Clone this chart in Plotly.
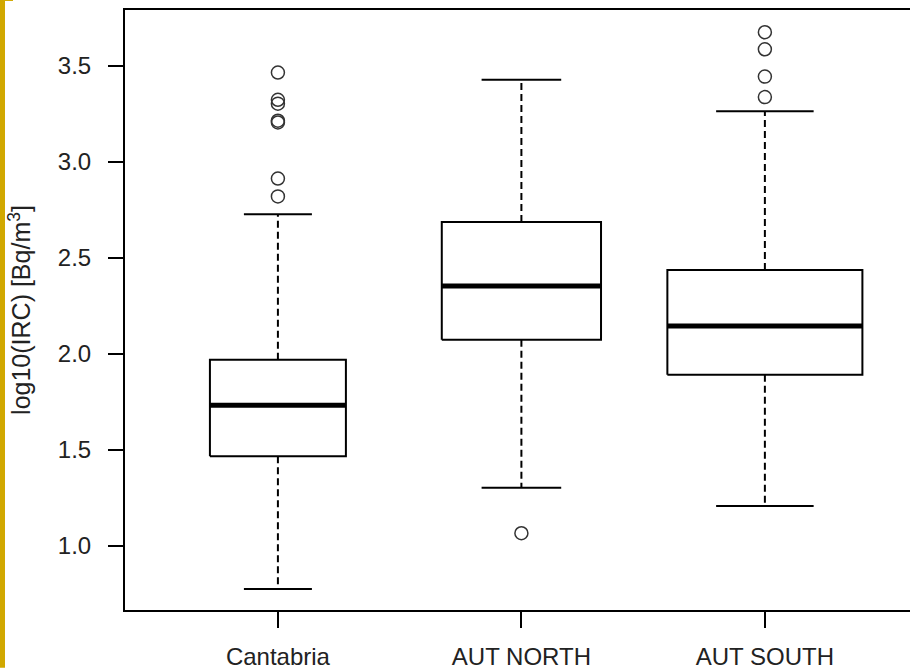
import plotly.graph_objects as go

# ---- data ----
categories = ["Cantabria", "AUT NORTH", "AUT SOUTH"]
q1_values = [1.467, 2.073, 1.891]
median_values = [1.732, 2.354, 2.145]
q3_values = [1.969, 2.687, 2.437]
lower_whisker = [0.775, 1.303, 1.208]
upper_whisker = [2.727, 3.427, 3.263]
relative_widths = [0.5585, 0.654, 0.801]   # varwidth boxes (sqrt n)
outliers_cantabria = [3.465, 3.323, 3.303, 3.214, 3.205, 2.913, 2.820]
outliers_aut_north = [1.066]
outliers_aut_south = [3.675, 3.586, 3.444, 3.337]
outliers = [outliers_cantabria, outliers_aut_north, outliers_aut_south]
y_tick_values = [1.0, 1.5, 2.0, 2.5, 3.0, 3.5]

FONT = "Liberation Sans, Arial, sans-serif"
fig = go.Figure()

for i, cat in enumerate(categories):
    xc = i + 1
    hw = relative_widths[i] / 2
    cw = hw / 2
    # box
    fig.add_trace(go.Scatter(
        x=[xc - hw, xc + hw, xc + hw, xc - hw, xc - hw],
        y=[q1_values[i], q1_values[i], q3_values[i], q3_values[i], q1_values[i]],
        mode="lines", line=dict(color="black", width=2), hoverinfo="skip"))
    # whiskers (dashed)
    fig.add_trace(go.Scatter(
        x=[xc, xc, None, xc, xc],
        y=[q3_values[i], upper_whisker[i], None, q1_values[i], lower_whisker[i]],
        mode="lines", line=dict(color="black", width=2, dash="7px,4px"),
        hoverinfo="skip"))
    # caps
    fig.add_trace(go.Scatter(
        x=[xc - cw, xc + cw, None, xc - cw, xc + cw],
        y=[upper_whisker[i], upper_whisker[i], None, lower_whisker[i], lower_whisker[i]],
        mode="lines", line=dict(color="black", width=2), hoverinfo="skip"))
    # median
    fig.add_trace(go.Scatter(
        x=[xc - hw, xc + hw], y=[median_values[i], median_values[i]],
        mode="lines", line=dict(color="black", width=5), hoverinfo="skip"))
    # outliers
    fig.add_trace(go.Scatter(
        x=[xc] * len(outliers[i]), y=outliers[i], mode="markers",
        marker=dict(symbol="circle-open", size=13, color="#333333",
                    line=dict(width=1.5, color="#333333")),
        hoverinfo="skip"))

fig.update_layout(
    width=910, height=670,
    margin=dict(l=125, r=0, t=10, b=58),
    paper_bgcolor="white", plot_bgcolor="white",
    showlegend=False,
    font=dict(family=FONT, color="#222222", size=24),
    xaxis=dict(
        range=[0.372, 3.596], tickvals=[1, 2, 3], ticktext=categories,
        showgrid=False, zeroline=False, showline=True, mirror=True,
        linecolor="black", linewidth=2, ticks="outside", ticklen=16,
        tickwidth=2, tickcolor="black", tickfont=dict(size=24),
        ticklabelstandoff=8),
    yaxis=dict(
        range=[0.6663, 3.7906], tickvals=y_tick_values, tickformat=".1f",
        showgrid=False, zeroline=False, showline=True, mirror=False,
        linecolor="black", linewidth=2, ticks="outside", ticklen=15,
        tickwidth=2, tickcolor="black", tickfont=dict(size=24),
        ticklabelstandoff=12,
        title=dict(text="log10(IRC) [Bq/m<sup>3</sup>]", font=dict(size=25),
                   standoff=20)),
    shapes=[
        dict(type="rect", xref="paper", yref="paper",
             x0=-125 / 785, x1=-120 / 785, y0=-58 / 602, y1=1 + 10 / 602,
             fillcolor="#D1A800", line=dict(width=0), layer="above"),
        dict(type="rect", xref="paper", yref="paper",
             x0=-125 / 785, x1=-112 / 785, y0=1 + 9 / 602, y1=1 + 10 / 602,
             fillcolor="#D1A800", line=dict(width=0), layer="above"),
    ],
)

fig.write_html("out.html",
               config={"displayModeBar": False},
               post_script="document.body.style.margin='0px';")
